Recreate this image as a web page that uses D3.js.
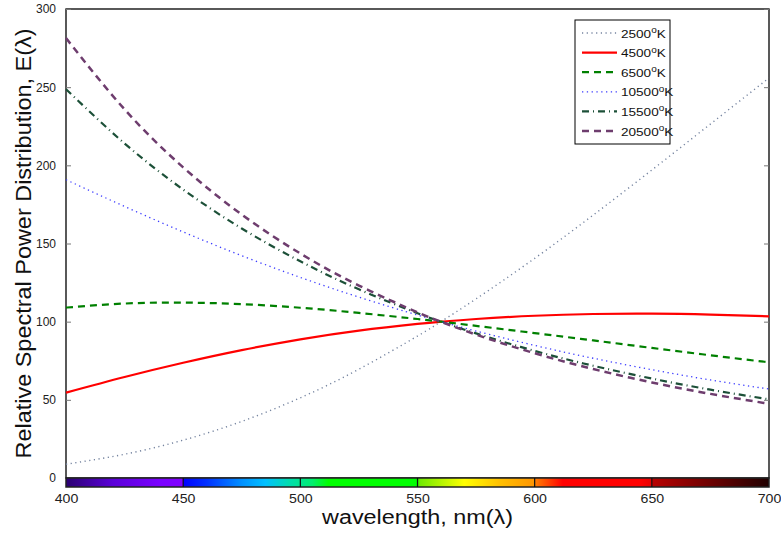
<!DOCTYPE html>
<html>
<head>
<meta charset="utf-8">
<script src="https://cdn.jsdelivr.net/npm/d3@7"></script>
<style>
  body { margin: 0; background: #fff; }
  text { font-family: "Liberation Sans", Arial, sans-serif; }
</style>
</head>
<body>
<div id="chart"></div>
<script>
const wavelengths = [400, 425, 450, 475, 500, 525, 550, 560, 575, 600, 625, 650, 675, 700];

const temps = ['2500', '4500', '6500', '10500', '15500', '20500'];

const e2500  = [8.8, 15.2, 24.2, 36.2, 51.3, 69.6, 90.8, 100, 114.6, 140.5, 168.2, 197.0, 226.4, 255.9];
const e4500  = [54.6, 64.6, 73.7, 81.8, 88.7, 94.3, 98.6, 100, 101.7, 103.8, 104.9, 105.1, 104.5, 103.4];
const e6500  = [109.0, 111.6, 112.2, 111.2, 108.9, 105.6, 101.7, 100, 97.3, 92.7, 88.0, 83.2, 78.5, 74.0];
const e10500 = [190.8, 173.7, 157.4, 142.2, 128.3, 115.7, 104.2, 100, 94.0, 84.8, 76.6, 69.3, 62.7, 56.9];
const e15500 = [248.7, 214.0, 184.5, 159.6, 138.6, 120.7, 105.4, 100, 92.5, 81.3, 71.8, 63.6, 56.5, 50.3];
const e20500 = [281.4, 235.8, 198.7, 168.5, 143.6, 123.1, 106.0, 100, 91.7, 79.8, 69.7, 61.1, 53.8, 47.5];

const yTicks = [0, 50, 100, 150, 200, 250, 300];
const xTicks = [400, 450, 500, 550, 600, 650, 700];

// colour strip under the x axis (wavelength -> colour)
const stripNm     = [400, 420, 440, 449.9, 450, 460, 475, 485, 495, 505, 512, 550, 551, 570, 585, 599.9, 600, 612, 645, 649.9, 650, 700];
const stripColors = ['#2a0070', '#5a00d8', '#7a00ff', '#8000ff', '#0000ff', '#0030ff', '#0090ff', '#00c0ff', '#00dcb0', '#00ee70', '#00ff00', '#00ff00', '#70ea00', '#ffff00', '#ffc000', '#ff9400', '#ff8000', '#ff0000', '#ff0000', '#e80000', '#b80000', '#200000'];

const series = [
  {name: temps[0], values: e2500,  color: '#74839f', width: 1.4, dash: '1.2,3.5'},
  {name: temps[1], values: e4500,  color: '#ff0000', width: 2.2, dash: null},
  {name: temps[2], values: e6500,  color: '#008000', width: 2.2, dash: '7,5'},
  {name: temps[3], values: e10500, color: '#3c3cff', width: 1.3, dash: '1.3,3.5'},
  {name: temps[4], values: e15500, color: '#1c5038', width: 2.2, dash: '7,4,1,4'},
  {name: temps[5], values: e20500, color: '#6e3d6e', width: 2.5, dash: '7,5'}
];

const MARGIN = {TOP: 9, LEFT: 66, RIGHT: 12, BOTTOM: 60};
const W = 781, H = 538;
const WIDTH = W - MARGIN.LEFT - MARGIN.RIGHT;
const HEIGHT = 478 - MARGIN.TOP;

const svg = d3.select('#chart').append('svg')
  .attr('width', W).attr('height', H);

const g = svg.append('g')
  .attr('transform', `translate(${MARGIN.LEFT}, ${MARGIN.TOP})`);

const x = d3.scaleLinear().domain([400, 700]).range([0, WIDTH]);
const y = d3.scaleLinear().domain([0, 300]).range([HEIGHT, 0]);

// box
g.append('rect')
  .attr('width', WIDTH).attr('height', HEIGHT)
  .attr('fill', 'none').attr('stroke', '#000').attr('stroke-width', 1.3);

// y ticks, inward on both sides
const yAxisL = d3.axisLeft(y).tickValues(yTicks).tickSizeInner(-5).tickSizeOuter(0).tickPadding(10);
const yl = g.append('g').call(yAxisL);
yl.select('.domain').remove();
yl.selectAll('line').attr('stroke', '#777');
yl.selectAll('text').attr('font-size', 12).attr('fill', '#222');

const yAxisR = d3.axisRight(y).tickValues(yTicks).tickSizeInner(-5).tickSizeOuter(0).tickFormat('');
const yr = g.append('g').attr('transform', `translate(${WIDTH},0)`).call(yAxisR);
yr.select('.domain').remove();
yr.selectAll('line').attr('stroke', '#777');

// curves
const line = d3.line()
  .x((d, i) => x(wavelengths[i]))
  .y(d => y(d))
  .curve(d3.curveNatural);

series.forEach(s => {
  g.append('path')
    .datum(s.values)
    .attr('d', line)
    .attr('fill', 'none')
    .attr('stroke', s.color)
    .attr('stroke-width', s.width)
    .attr('stroke-dasharray', s.dash);
});

// wavelength colour strip
const grad = svg.append('defs').append('linearGradient')
  .attr('id', 'spec').attr('x1', '0%').attr('x2', '100%').attr('y1', '0%').attr('y2', '0%');
stripNm.forEach((nm, i) => {
  grad.append('stop')
    .attr('offset', (x(nm) / WIDTH * 100) + '%')
    .attr('stop-color', stripColors[i]);
});

const strip = g.append('g').attr('transform', `translate(0, ${HEIGHT})`);
strip.append('rect')
  .attr('width', WIDTH).attr('height', 9)
  .attr('fill', 'url(#spec)')
  .attr('stroke', '#222').attr('stroke-width', 1.5);

const xAxis = d3.axisBottom(x).tickValues(xTicks).tickSize(0).tickPadding(16);
const xa = strip.append('g').call(xAxis);
xa.select('.domain').remove();
xa.selectAll('text')
  .attr('font-size', 12).attr('fill', '#222')
  .attr('transform', 'scale(1.18,1)');
strip.selectAll('.mark')
  .data(xTicks.slice(1, -1))
  .enter().append('line')
  .attr('x1', d => x(d)).attr('x2', d => x(d))
  .attr('y1', 0).attr('y2', 9)
  .attr('stroke', '#111').attr('stroke-width', 1.2);

// axis labels
svg.append('text')
  .attr('x', MARGIN.LEFT + WIDTH / 2)
  .attr('y', 524)
  .attr('text-anchor', 'middle')
  .attr('font-size', 19.5)
  .attr('textLength', 191)
  .attr('lengthAdjust', 'spacingAndGlyphs')
  .attr('fill', '#111')
  .text('wavelength, nm(λ)');

svg.append('text')
  .attr('transform', `translate(31, ${MARGIN.TOP + HEIGHT / 2}) rotate(-90)`)
  .attr('text-anchor', 'middle')
  .attr('font-size', 22)
  .attr('textLength', 430)
  .attr('lengthAdjust', 'spacingAndGlyphs')
  .attr('fill', '#111')
  .text('Relative Spectral Power Distribution, E(λ)');

// legend
const lg = svg.append('g').attr('transform', 'translate(575, 20)');
lg.append('rect')
  .attr('width', 95).attr('height', 124)
  .attr('fill', '#fff').attr('stroke', '#000').attr('stroke-width', 1);

const rows = lg.selectAll('.row')
  .data(series)
  .enter().append('g')
  .attr('transform', (d, i) => `translate(0, ${13 + i * 19.6})`);

rows.append('line')
  .attr('x1', 7).attr('x2', 42)
  .attr('stroke', d => d.color)
  .attr('stroke-width', d => d.width)
  .attr('stroke-dasharray', d => d.dash);

const lt = rows.append('text')
  .attr('transform', 'translate(46, 4.5) scale(1.18,1)')
  .attr('font-size', 11.5)
  .attr('fill', '#111');
lt.append('tspan').text(d => d.name);
lt.append('tspan').attr('dy', -4.5).attr('font-size', 8.5).text('o');
lt.append('tspan').attr('dy', 4.5).text('K');
</script>
</body>
</html>
